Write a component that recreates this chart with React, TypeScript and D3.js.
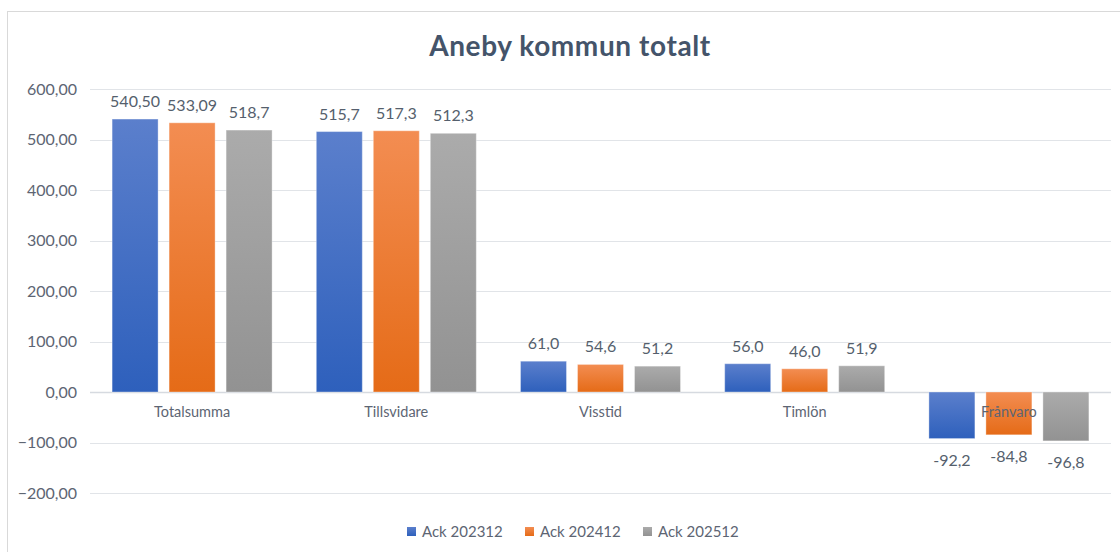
import React, { useEffect, useRef } from 'react';
import * as d3 from 'd3';

const categories = ['Totalsumma', 'Tillsvidare', 'Visstid', 'Timlön', 'Frånvaro'];
const seriesNames = ['Ack 202312', 'Ack 202412', 'Ack 202512'];
const values = [
	[540.5, 533.09, 518.7],
	[515.7, 517.3, 512.3],
	[61.0, 54.6, 51.2],
	[56.0, 46.0, 51.9],
	[-92.2, -84.8, -96.8],
];
// labels as printed on the chart (mixed decimals)
const valueLabels = [
	['540,50', '533,09', '518,7'],
	['515,7', '517,3', '512,3'],
	['61,0', '54,6', '51,2'],
	['56,0', '46,0', '51,9'],
	['-92,2', '-84,8', '-96,8'],
];
const yTicks = [600, 500, 400, 300, 200, 100, 0, -100, -200];

const gradients = [
	{ top: '#5b7fcc', bottom: '#2e60bc' },
	{ top: '#f38d52', bottom: '#e56b17' },
	{ top: '#ababab', bottom: '#929292' },
];

const FONT = 'Lato, "Open Sans", sans-serif';

export default function App() {
	const ref = useRef<SVGSVGElement | null>(null);

	useEffect(() => {
		const width = 1120;
		const height = 552;
		const svg = d3.select(ref.current);
		svg.selectAll('*').remove();

		const defs = svg.append('defs');
		gradients.forEach((g, i) => {
			const lg = defs
				.append('linearGradient')
				.attr('id', `grad${i}`)
				.attr('x1', 0)
				.attr('y1', 0)
				.attr('x2', 0)
				.attr('y2', 1);
			lg.append('stop').attr('offset', '0%').attr('stop-color', g.top);
			lg.append('stop').attr('offset', '100%').attr('stop-color', g.bottom);
		});

		svg.append('rect').attr('width', width).attr('height', height).attr('fill', '#fff');
		// chart frame, running off the right and bottom edge
		svg
			.append('rect')
			.attr('x', 7.5)
			.attr('y', 11.5)
			.attr('width', 1200)
			.attr('height', 700)
			.attr('fill', 'none')
			.attr('stroke', '#d9d9d9');

		const x0 = d3.scaleBand().domain(categories).range([90, 1111]);
		const x1 = d3.scaleBand().domain(seriesNames).range([-80, 80]).paddingInner(0.193);
		const y = d3.scaleLinear().domain([-200, 600]).range([493, 89]);

		// title
		svg
			.append('text')
			.attr('x', 570)
			.attr('y', 56)
			.attr('text-anchor', 'middle')
			.attr('font-family', FONT)
			.attr('font-weight', 'bold')
			.attr('font-size', 28)
			.attr('letter-spacing', 0.6)
			.attr('fill', '#44546a')
			.text('Aneby kommun totalt');

		// gridlines + y labels
		const grid = svg.append('g');
		grid
			.selectAll('line')
			.data(yTicks)
			.enter()
			.append('line')
			.attr('x1', 90)
			.attr('x2', 1111)
			.attr('y1', d => Math.round(y(d)) + 0.5)
			.attr('y2', d => Math.round(y(d)) + 0.5)
			.attr('stroke', d => (d === 0 ? '#d6dae0' : '#e1e4e8'))
			.attr('stroke-width', d => (d === 0 ? 1.5 : 1));
		grid
			.selectAll('text')
			.data(yTicks)
			.enter()
			.append('text')
			.attr('x', 77)
			.attr('y', d => y(d))
			.attr('dy', '0.35em')
			.attr('text-anchor', 'end')
			.attr('font-family', FONT)
			.attr('font-size', 16)
			.attr('fill', '#5d6573')
			.text(d => d3.format('.2f')(d).replace('.', ','));

		// bars
		const groups = svg
			.append('g')
			.selectAll('g')
			.data(categories)
			.enter()
			.append('g')
			.attr('transform', d => `translate(${x0(d)! + x0.bandwidth() / 2},0)`);

		groups
			.selectAll('rect')
			.data((d, i) => values[i].map((v, j) => ({ v, j })))
			.enter()
			.append('rect')
			.attr('x', d => x1(seriesNames[d.j])!)
			.attr('width', x1.bandwidth())
			.attr('y', d => y(Math.max(0, d.v)))
			.attr('height', d => Math.abs(y(d.v) - y(0)))
			.attr('fill', d => `url(#grad${d.j})`)
			.attr('stroke', '#ffffff')
			.attr('stroke-opacity', 0.35)
			.attr('stroke-width', 1);

		// category labels, drawn over the bars
		svg
			.append('g')
			.selectAll('text')
			.data(categories)
			.enter()
			.append('text')
			.attr('x', d => x0(d)! + x0.bandwidth() / 2)
			.attr('y', 417)
			.attr('text-anchor', 'middle')
			.attr('font-family', FONT)
			.attr('font-size', 14.5)
			.attr('fill', '#5d6573')
			.text(d => d);

		// data labels
		groups
			.selectAll('text')
			.data((d, i) => values[i].map((v, j) => ({ v, j, label: valueLabels[i][j] })))
			.enter()
			.append('text')
			.attr('x', d => x1(seriesNames[d.j])! + x1.bandwidth() / 2)
			.attr('y', d => (d.v >= 0 ? y(d.v) - 12 : y(d.v) + 27))
			.attr('text-anchor', 'middle')
			.attr('font-family', FONT)
			.attr('font-size', 16)
			.attr('fill', '#555f6d')
			.text(d => d.label);

		// legend
		const legend = svg
			.append('g')
			.selectAll('g')
			.data(seriesNames)
			.enter()
			.append('g')
			.attr('transform', (d, i) => `translate(${407 + i * 118},527)`);
		legend
			.append('rect')
			.attr('width', 9)
			.attr('height', 9)
			.attr('fill', (d, i) => `url(#grad${i})`);
		legend
			.append('text')
			.attr('x', 15)
			.attr('y', 10)
			.attr('font-family', FONT)
			.attr('font-size', 15)
			.attr('fill', '#5d6573')
			.text(d => d);
	}, []);

	return (
		<svg
			ref={ref}
			width={1120}
			height={552}
			style={{ position: 'absolute', left: 0, top: 0, display: 'block' }}
		/>
	);
}
